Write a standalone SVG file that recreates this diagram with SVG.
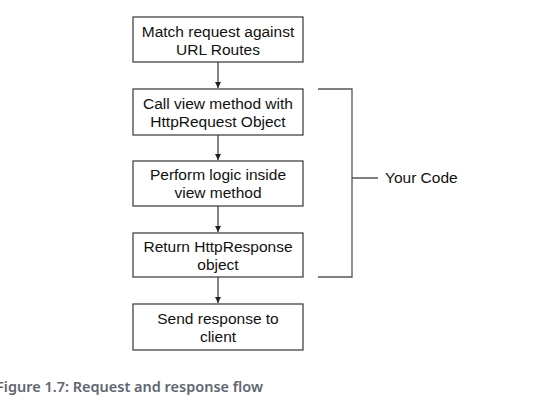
<svg xmlns="http://www.w3.org/2000/svg" width="535" height="414" viewBox="0 0 535 414">
<defs>
<marker id="ah" markerWidth="8" markerHeight="8" refX="7" refY="4" orient="auto" markerUnits="userSpaceOnUse">
<path d="M1,1 L7,4 L1,7 Z" fill="#222"/>
</marker>
<style>
.box{fill:#fff;stroke:#444;stroke-width:1.3}
.t{font-family:"Liberation Sans",Arial,sans-serif;font-size:15.5px;fill:#111;text-anchor:middle}
.c{stroke:#333;stroke-width:1.2;fill:none}
.br{stroke:#555;stroke-width:1.3;fill:none}
.cap{font-family:"Noto Sans",Lato,sans-serif;font-size:15px;font-weight:600;fill:#5f6670}
</style>
</defs>
<rect width="535" height="414" fill="#fff"/>
<g id="connectors">
<line class="c" x1="218" y1="62" x2="218" y2="88" marker-end="url(#ah)"/>
<line class="c" x1="218" y1="135" x2="218" y2="160" marker-end="url(#ah)"/>
<line class="c" x1="218" y1="206" x2="218" y2="232" marker-end="url(#ah)"/>
<line class="c" x1="218" y1="277" x2="218" y2="303" marker-end="url(#ah)"/>
</g>
<g id="n1"><rect class="box" x="133" y="17" width="170" height="45"/>
<text class="t" x="218" y="37">Match request against</text><text class="t" x="218" y="55">URL Routes</text></g>
<g id="n2"><rect class="box" x="133" y="89" width="170" height="46"/>
<text class="t" x="218" y="109">Call view method with</text><text class="t" x="218" y="127">HttpRequest Object</text></g>
<g id="n3"><rect class="box" x="133" y="161" width="170" height="45"/>
<text class="t" x="218" y="180">Perform logic inside</text><text class="t" x="218" y="198">view method</text></g>
<g id="n4"><rect class="box" x="133" y="233" width="170" height="44"/>
<text class="t" x="218" y="252">Return HttpResponse</text><text class="t" x="218" y="270">object</text></g>
<g id="n5"><rect class="box" x="133" y="304" width="170" height="46"/>
<text class="t" x="218" y="324">Send response to</text><text class="t" x="218" y="342">client</text></g>
<g id="bracket">
<path class="br" d="M318,89 H352 V277 H318 M352,178 H378"/>
<text x="385" y="183" font-family="Liberation Sans,Arial,sans-serif" font-size="15.5" fill="#111">Your Code</text>
</g>
<text class="cap" x="-4" y="392" textLength="267" lengthAdjust="spacingAndGlyphs">Figure 1.7: Request and response flow</text>
</svg>
